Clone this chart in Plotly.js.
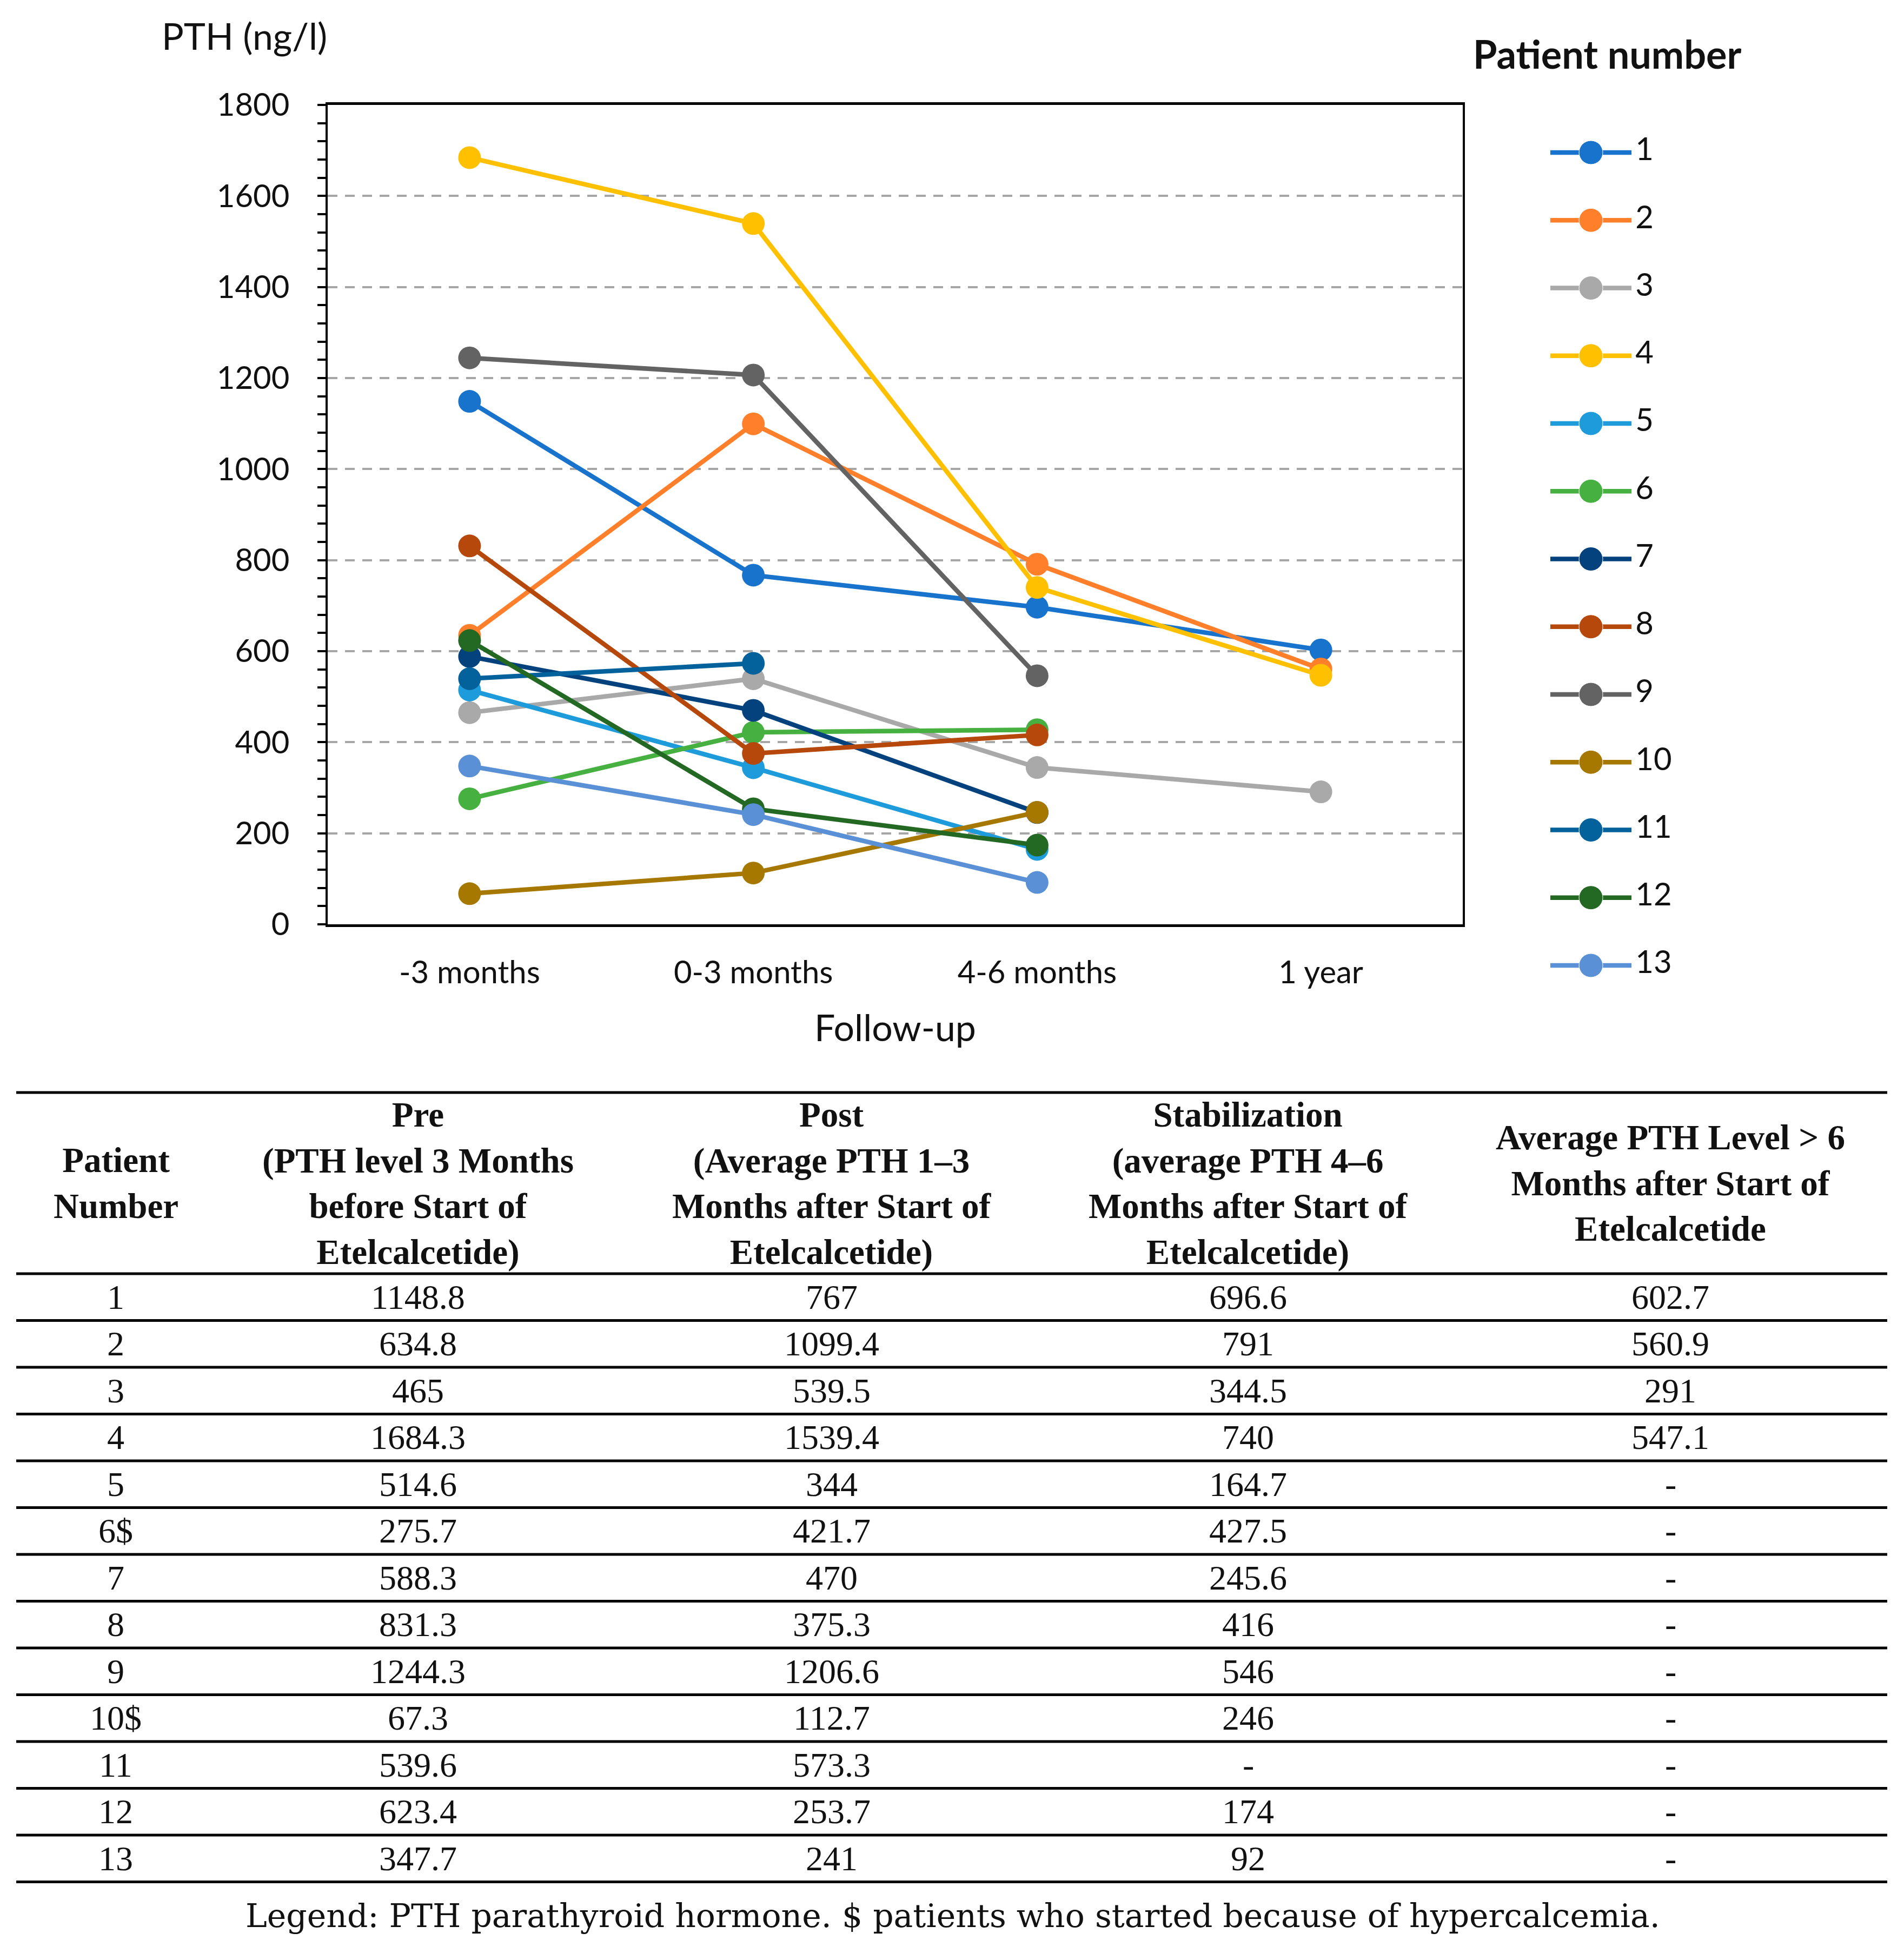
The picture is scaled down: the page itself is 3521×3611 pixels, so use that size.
<!DOCTYPE html>
<html>
<head>
<meta charset="utf-8">
<script src="https://cdn.plot.ly/plotly-3.0.1.min.js"></script>
<style>
html,body{margin:0;padding:0;background:#fff;}
#chart{width:3521px;height:3611px;}
</style>
</head>
<body>
<div id="chart"></div>
<script>
// ---------------- DATA ----------------
const followUp = ['-3 months', '0-3 months', '4-6 months', '1 year'];
const patients = ['1','2','3','4','5','6','7','8','9','10','11','12','13'];
const preValues  = [1148.8, 634.8, 465, 1684.3, 514.6, 275.7, 588.3, 831.3, 1244.3, 67.3, 539.6, 623.4, 347.7];
const postValues = [767, 1099.4, 539.5, 1539.4, 344, 421.7, 470, 375.3, 1206.6, 112.7, 573.3, 253.7, 241];
const stabValues = [696.6, 791, 344.5, 740, 164.7, 427.5, 245.6, 416, 546, 246, null, 174, 92];
const yearValues = [602.7, 560.9, 291, 547.1, null, null, null, null, null, null, null, null, null];
const hypercalcemia = [false,false,false,false,false,true,false,false,false,true,false,false,false];
const seriesColors = ['#1873CD','#FF7F2A','#A9A9A9','#FFC000','#1E9BDA','#46B040','#04427E',
                      '#B5480A','#636363','#A67800','#03619B','#236823','#5A90D6'];
const yTitle = 'PTH (ng/l)';
const xTitle = 'Follow-up';
const legendTitle = 'Patient number';
const tableHeaders = [
  'Patient<br>Number',
  'Pre<br>(PTH level 3 Months<br>before Start of<br>Etelcalcetide)',
  'Post<br>(Average PTH 1–3<br>Months after Start of<br>Etelcalcetide)',
  'Stabilization<br>(average PTH 4–6<br>Months after Start of<br>Etelcalcetide)',
  'Average PTH Level &gt; 6<br>Months after Start of<br>Etelcalcetide'
];
const footnote = 'Legend: PTH parathyroid hormone. $ patients who started because of hypercalcemia.';

// ---------------- LAYOUT HELPERS ----------------
const W = 3521, H = 3611;
const px = x => x / W;
const py = y => 1 - y / H;
const sansFont = 'Lato, "Open Sans", sans-serif';
const serifFont = '"Liberation Serif", "DejaVu Serif", serif';
const textColor = '#111111';

const traces = [];
patients.forEach((p, i) => {
  traces.push({
    type: 'scatter', mode: 'lines+markers', name: p,
    x: followUp,
    y: [preValues[i], postValues[i], stabValues[i], yearValues[i]],
    line: {color: seriesColors[i], width: 8.5},
    marker: {color: seriesColors[i], size: 42, opacity: 1},
    connectgaps: false, showlegend: false, hoverinfo: 'skip',
    xaxis: 'x', yaxis: 'y'
  });
});
// custom legend drawn on its own axes
patients.forEach((p, i) => {
  traces.push({
    type: 'scatter', mode: 'lines+markers+text', name: p,
    x: [0, 1, 2], y: [p, p, p],
    line: {color: seriesColors[i], width: 8.5},
    marker: {color: seriesColors[i], size: [0, 44, 0], opacity: 1},
    text: ['', '', '\u2009' + p], textposition: 'middle right',
    textfont: {family: sansFont, size: 58, color: textColor},
    cliponaxis: false, showlegend: false, hoverinfo: 'skip',
    xaxis: 'x2', yaxis: 'y2'
  });
});

// ---------------- TABLE ----------------
const colX = [214, 773, 1538, 2308, 3089];
const tableTop = 2020, headerBottom = 2355, rowH = 86.5;
const tableLeft = 30, tableRight = 3490;
const fmt = v => (v === null ? '-' : String(v));

const annotations = [];
annotations.push({text: yTitle, xref: 'paper', yref: 'paper', x: px(452), y: py(66),
  xanchor: 'center', yanchor: 'middle', showarrow: false,
  font: {family: sansFont, size: 68, color: textColor}});
annotations.push({text: '<b>' + legendTitle + '</b>', xref: 'paper', yref: 'paper', x: px(2722), y: py(99),
  xanchor: 'left', yanchor: 'middle', showarrow: false,
  font: {family: sansFont, size: 72, color: textColor}});

tableHeaders.forEach((h, c) => {
  annotations.push({text: '<b>' + h + '</b>', xref: 'paper', yref: 'paper',
    x: px(colX[c]), y: py((tableTop + headerBottom) / 2),
    xanchor: 'center', yanchor: 'middle', align: 'center', showarrow: false,
    font: {family: serifFont, size: 65, color: textColor}});
});
patients.forEach((p, r) => {
  const rowVals = [p + (hypercalcemia[r] ? '$' : ''), fmt(preValues[r]), fmt(postValues[r]),
                   fmt(stabValues[r]), fmt(yearValues[r])];
  rowVals.forEach((v, c) => {
    annotations.push({text: v, xref: 'paper', yref: 'paper',
      x: px(colX[c]), y: py(headerBottom + (r + 0.5) * rowH),
      xanchor: 'center', yanchor: 'middle', showarrow: false,
      font: {family: serifFont, size: 64, color: textColor}});
  });
});
annotations.push({text: footnote, xref: 'paper', yref: 'paper', x: px(1762), y: py(3542),
  xanchor: 'center', yanchor: 'middle', showarrow: false,
  font: {family: '"DejaVu Serif", serif', size: 60, color: textColor}});

const shapes = [];
const ruleYs = [tableTop, headerBottom];
patients.forEach((p, r) => ruleYs.push(headerBottom + (r + 1) * rowH));
ruleYs.forEach(y => shapes.push({type: 'line', xref: 'paper', yref: 'paper',
  x0: px(tableLeft), x1: px(tableRight), y0: py(y), y1: py(y),
  line: {color: '#000', width: 5}}));

// legend axis: first item at y=282px, last at y=1785px
const legTop = 282, legBottom = 1785;
const legStep = (legBottom - legTop) / (patients.length - 1);

const layout = {
  width: W, height: H,
  margin: {l: 0, r: 0, t: 0, b: 0},
  paper_bgcolor: '#fff', plot_bgcolor: '#fff',
  showlegend: false,
  xaxis: {
    domain: [px(606), px(2705)], anchor: 'y',
    type: 'category', categoryarray: followUp, range: [-0.5, 3.5],
    showline: true, linecolor: '#000', linewidth: 5, mirror: true,
    ticks: '', showgrid: false, zeroline: false,
    tickfont: {family: sansFont, size: 58, color: textColor},
    ticklabelstandoff: 34,
    title: {text: xTitle, font: {family: sansFont, size: 68, color: textColor}, standoff: 50}
  },
  yaxis: {
    domain: [py(1709), py(194)], anchor: 'x',
    range: [0, 1800], tickmode: 'linear', tick0: 0, dtick: 200,
    ticks: 'outside', ticklen: 15, tickwidth: 4, tickcolor: '#000',
    showline: true, linecolor: '#000', linewidth: 4, mirror: true,
    showgrid: true, gridcolor: '#A6A6A6', gridwidth: 4, griddash: '18px,14px',
    zeroline: false,
    tickfont: {family: sansFont, size: 58, color: textColor},
    ticklabelstandoff: 40,
    minor: {dtick: 40, tick0: 0, ticks: 'outside', ticklen: 15, tickwidth: 4, tickcolor: '#000', showgrid: false}
  },
  xaxis2: {domain: [px(2867), px(3017)], anchor: 'y2', range: [0, 2], visible: false, fixedrange: true},
  yaxis2: {domain: [py(legBottom + legStep / 2), py(legTop - legStep / 2)], anchor: 'x2',
           type: 'category', categoryarray: patients,
           range: [patients.length - 0.5, -0.5], visible: false, fixedrange: true},
  annotations: annotations,
  shapes: shapes
};

Plotly.newPlot('chart', traces, layout, {displayModeBar: false, staticPlot: true});
</script>
</body>
</html>
